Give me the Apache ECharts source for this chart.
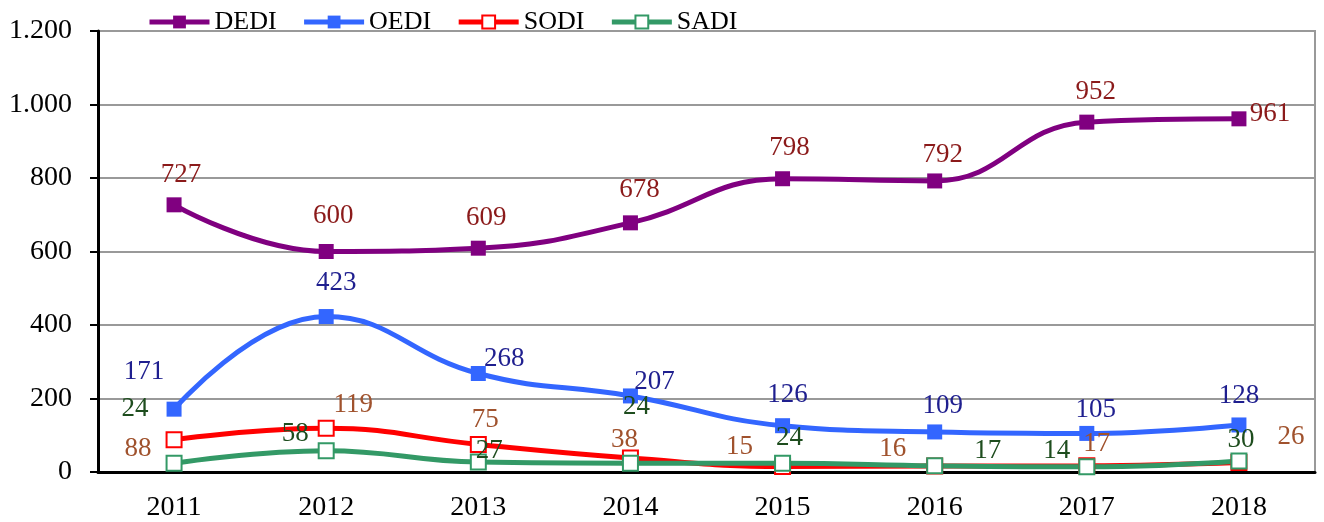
<!DOCTYPE html>
<html lang="en">
<head>
    <meta charset="UTF-8">
    <title>DEDI OEDI SODI SADI</title>
    <script src="https://cdn.jsdelivr.net/npm/echarts@6/dist/echarts.min.js"></script>
    <style>
        body { margin: 0; background: #fff; }
        #main { width: 1324px; height: 522px; }
    </style>
</head>
<body>
    <div id="main"></div>
    <script type="text/javascript">
        const years = ['2011', '2012', '2013', '2014', '2015', '2016', '2017', '2018'];
        const dedi = [727, 600, 609, 678, 798, 792, 952, 961];
        const oedi = [171, 423, 268, 207, 126, 109, 105, 128];
        const sodi = [88, 119, 75, 38, 15, 16, 17, 26];
        const sadi = [24, 58, 27, 24, 24, 17, 14, 30];

        // label offsets from the point centre, per point
        const offDedi = [[7, -30], [7, -36], [8, -30], [9, -33], [7, -31], [8, -26], [9, -30], [31, -5]];
        const offOedi = [[-30, -37], [10, -34], [26, -15], [24, -14], [5, -31], [8, -26], [9, -24], [0, -29]];
        const offSodi = [[-36, 9], [27, -23], [7, -25], [-6, -18], [-43, -20], [-42, -17], [10, -22], [52, -26]];
        const offSadi = [[-39, -54], [-31, -17], [11, -11], [6, -56], [7, -25], [53, -15], [-30, -16], [2, -21]];

        const font = 'Liberation Serif';

        function mkData(vals, offs, color) {
            return vals.map((v, i) => ({
                value: v,
                label: { show: true, position: 'inside', offset: offs[i], color: color,
                         fontFamily: font, fontSize: 27 }
            }));
        }

        function mkSeries(name, vals, offs, lineColor, labelColor, hollow) {
            return {
                name: name,
                type: 'line',
                smooth: 0.45,
                symbol: 'rect',
                symbolSize: 15,
                data: mkData(vals, offs, labelColor),
                lineStyle: { color: lineColor, width: 5 },
                itemStyle: hollow
                    ? { color: '#fff', borderColor: lineColor, borderWidth: 2 }
                    : { color: lineColor, borderColor: lineColor, borderWidth: 0 },
                emphasis: { disabled: true }
            };
        }

        var chart = echarts.init(document.getElementById('main'));
        var option = {
            animation: false,
            textStyle: { fontFamily: font },
            legend: {
                top: 4,
                left: 142,
                itemWidth: 60,
                itemHeight: 16,
                itemGap: 25,
                lineStyle: { width: 5 },
                textStyle: { fontFamily: font, fontSize: 26, color: '#000' },
                data: ['DEDI', 'OEDI', 'SODI', 'SADI']
            },
            grid: {
                left: 98, right: 9, top: 31, bottom: 47,
                show: true, borderColor: '#999', borderWidth: 2
            },
            xAxis: {
                type: 'category',
                data: years,
                axisLine: { lineStyle: { color: '#000', width: 3 } },
                axisTick: { length: 10, lineStyle: { color: '#000', width: 2 } },
                axisLabel: { margin: 22, fontFamily: font, fontSize: 28, color: '#000' }
            },
            yAxis: {
                type: 'value',
                min: 0, max: 1200, interval: 200,
                axisLine: { show: true, lineStyle: { color: '#000', width: 3 } },
                axisTick: { show: true, length: 8, lineStyle: { color: '#000', width: 2 } },
                axisLabel: {
                    margin: 26, fontFamily: font, fontSize: 28, color: '#000',
                    formatter: v => v >= 1000 ? Math.floor(v / 1000) + '.' + String(v % 1000).padStart(3, '0') : String(v)
                },
                splitLine: { lineStyle: { color: '#999', width: 2 } }
            },
            series: [
                mkSeries('DEDI', dedi, offDedi, '#800080', '#8b1a1a', false),
                mkSeries('OEDI', oedi, offOedi, '#3366ff', '#1f1f8f', false),
                mkSeries('SODI', sodi, offSodi, '#ff0000', '#a0522d', true),
                mkSeries('SADI', sadi, offSadi, '#339966', '#1e4d1e', true)
            ]
        };
        chart.setOption(option);
    </script>
</body>
</html>
